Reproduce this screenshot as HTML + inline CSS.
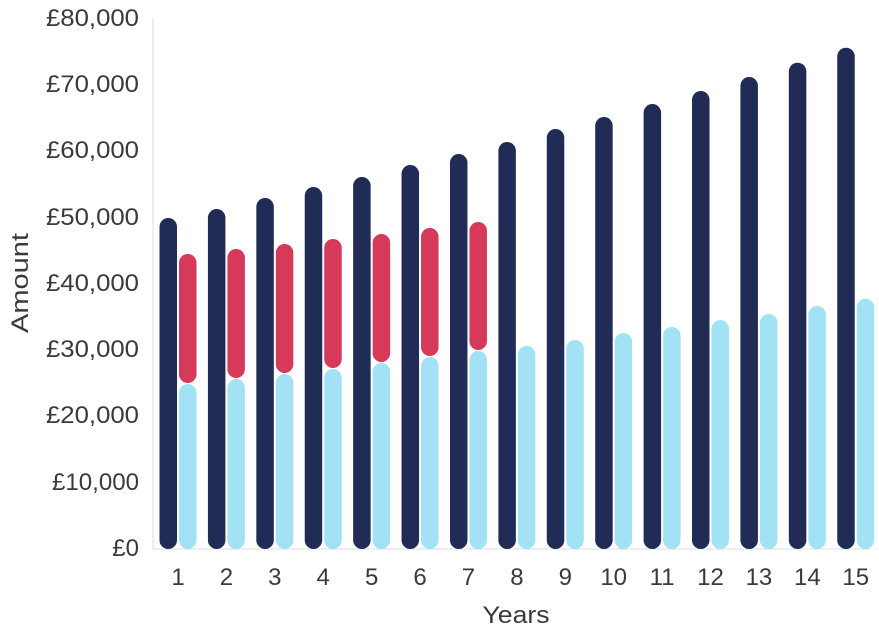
<!DOCTYPE html>
<html><head><meta charset="utf-8"><style>
html,body{margin:0;padding:0;background:#fff;}
svg{display:block;}
text{font-family:"Liberation Sans",sans-serif;fill:#3a3a3a;}
</style></head><body>
<svg width="879" height="637" viewBox="0 0 879 637" xmlns="http://www.w3.org/2000/svg">
<line x1="153" y1="18" x2="153" y2="549" stroke="#ddd" stroke-width="1"/>
<line x1="153" y1="549" x2="870" y2="549" stroke="#ddd" stroke-width="1"/>
<g font-size="24" text-anchor="end">
<text x="139" y="26" textLength="93" lengthAdjust="spacingAndGlyphs">£80,000</text>
<text x="139" y="92" textLength="93" lengthAdjust="spacingAndGlyphs">£70,000</text>
<text x="139" y="158" textLength="93" lengthAdjust="spacingAndGlyphs">£60,000</text>
<text x="139" y="225" textLength="93" lengthAdjust="spacingAndGlyphs">£50,000</text>
<text x="139" y="291" textLength="93" lengthAdjust="spacingAndGlyphs">£40,000</text>
<text x="139" y="357" textLength="93" lengthAdjust="spacingAndGlyphs">£30,000</text>
<text x="139" y="423" textLength="93" lengthAdjust="spacingAndGlyphs">£20,000</text>
<text x="139" y="490" textLength="87" lengthAdjust="spacingAndGlyphs">£10,000</text>
<text x="139" y="556">£0</text>
</g>
<text x="28" y="283" font-size="24" text-anchor="middle" textLength="100" lengthAdjust="spacingAndGlyphs" transform="rotate(-90 28 283)">Amount</text>
<text x="516" y="623" font-size="24" text-anchor="middle" textLength="67" lengthAdjust="spacingAndGlyphs">Years</text>
<g id="bars"></g>
<g id="xl" font-size="24" text-anchor="middle"></g>
</svg>
<script>
var dark=[218,209,198,187,177,165,154,142,129,117,104,91,77,62.7,47.7];
var light=[384,379,374,369,363,357,351,346,340,333,327,320,314,306,298.7];
var red=[254,249,244,239,234,228,222];
var g=document.getElementById('bars'),xl=document.getElementById('xl'),ns="http://www.w3.org/2000/svg";
function r(x,y1,y2,c){var e=document.createElementNS(ns,'rect');e.setAttribute('x',x);e.setAttribute('y',y1);e.setAttribute('width',17.5);e.setAttribute('height',y2-y1);e.setAttribute('rx',8.75);e.setAttribute('fill',c);g.appendChild(e);}
for(var i=0;i<15;i++){var x=159.5+48.41*i;
r(x,dark[i],549,'#202c55');
r(x+19.5,light[i],549,'#a3e2f4');
if(i<7)r(x+19.5,red[i],light[i]-1,'#d6395a');
var t=document.createElementNS(ns,'text');t.setAttribute('x',x+18.5);t.setAttribute('y',585);t.textContent=i+1;xl.appendChild(t);}
</script>
</body></html>
